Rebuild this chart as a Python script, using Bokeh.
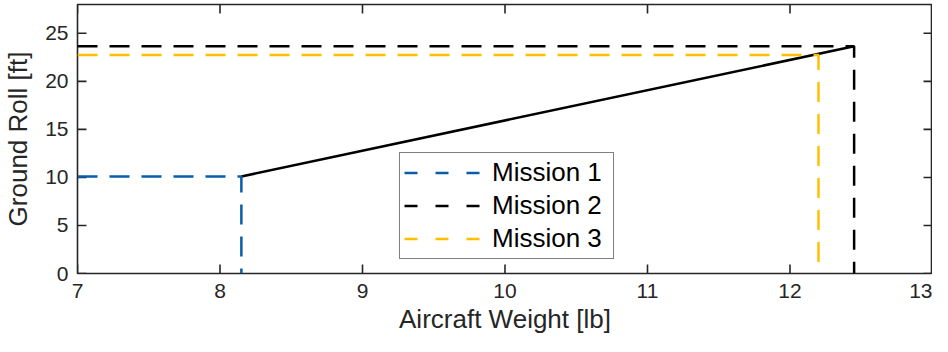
import math
from bokeh.plotting import figure
from bokeh.models import Range1d, FixedTicker, Legend, LegendItem
from bokeh.embed import file_html
from bokeh.resources import INLINE

# ---- data ----
x_min, x_max = 7, 13
y_min, y_max = 0, 28
x_ticks = [7, 8, 9, 10, 11, 12, 13]
y_ticks = [0, 5, 10, 15, 20, 25]
x_label = "Aircraft Weight [lb]"
y_label = "Ground Roll [ft]"

curve_weight = [8.15, 12.45]          # aircraft weight [lb]
curve_roll = [10.1, 23.65]            # ground roll [ft]

missions = ["Mission 1", "Mission 2", "Mission 3"]
mission_weight = [8.15, 12.45, 12.2]
mission_roll = [10.1, 23.65, 22.75]
mission_colors = ["#0a5ca8", "#000000", "#ffbf00"]

FONT = "Liberation Sans"
AX = "#262626"
TICK = 18  # marker size; half of it shows inside the frame

p = figure(width=932, height=336, output_backend="svg", toolbar_location=None,
           x_range=Range1d(x_min, x_max), y_range=Range1d(y_min, y_max),
           min_border_left=69, min_border_right=0, min_border_top=4, min_border_bottom=63)
p.background_fill_color = "white"
p.border_fill_color = "white"
p.grid.visible = False
p.outline_line_color = AX
p.outline_line_width = 1.6

for ax in (p.xaxis[0], p.yaxis[0]):
    ax.axis_line_color = None
    ax.major_tick_in = 0
    ax.major_tick_out = 0
    ax.major_tick_line_color = None
    ax.minor_tick_line_color = None
    ax.major_label_text_font = FONT
    ax.major_label_text_font_size = "21px"
    ax.major_label_text_color = AX
    ax.axis_label_text_font = FONT
    ax.axis_label_text_font_size = "26px"
    ax.axis_label_text_font_style = "normal"
    ax.axis_label_text_color = AX

p.xaxis[0].ticker = FixedTicker(ticks=x_ticks)
p.yaxis[0].ticker = FixedTicker(ticks=y_ticks)
p.xaxis[0].axis_label = x_label
p.yaxis[0].axis_label = y_label
p.xaxis[0].major_label_standoff = 10
p.xaxis[0].axis_label_standoff = 3
p.yaxis[0].major_label_standoff = 9
p.yaxis[0].axis_label_standoff = 9

# inward tick marks on all four sides (clipped to the frame)
for yv in (y_min, y_max):
    p.scatter(x_ticks, [yv] * len(x_ticks), marker="dash", size=TICK, angle=math.pi / 2,
              line_color=AX, line_width=1.6)
for xv in (x_min, x_max):
    p.scatter([xv] * len(y_ticks), y_ticks, marker="dash", size=TICK,
              line_color=AX, line_width=1.6)

# curve
p.line(curve_weight, curve_roll, line_color="black", line_width=2.5)

# mission dashed guides
for w, r, c in zip(mission_weight, mission_roll, mission_colors):
    p.line([x_min, w, w], [r, r, y_min], line_color=c, line_width=2.5,
           line_dash="20 12")

# legend (sample lines with shorter dashes)
items = []
for name, c in zip(missions, mission_colors):
    rr = p.line([float("nan"), float("nan")], [float("nan"), float("nan")],
                line_color=c, line_width=2.5, line_dash="13 18")
    items.append(LegendItem(label=name, renderers=[rr]))

legend = Legend(items=items, location=(322, 14), orientation="vertical",
                label_text_font=FONT, label_text_font_size="26px",
                label_text_color="black", glyph_width=80, glyph_height=31,
                label_standoff=8, label_width=117, spacing=2, padding=4, margin=0,
                border_line_color="black", border_line_width=1.6,
                background_fill_color="white", background_fill_alpha=1)
p.add_layout(legend, "center")

open("out.html", "w").write(file_html(p, INLINE))
